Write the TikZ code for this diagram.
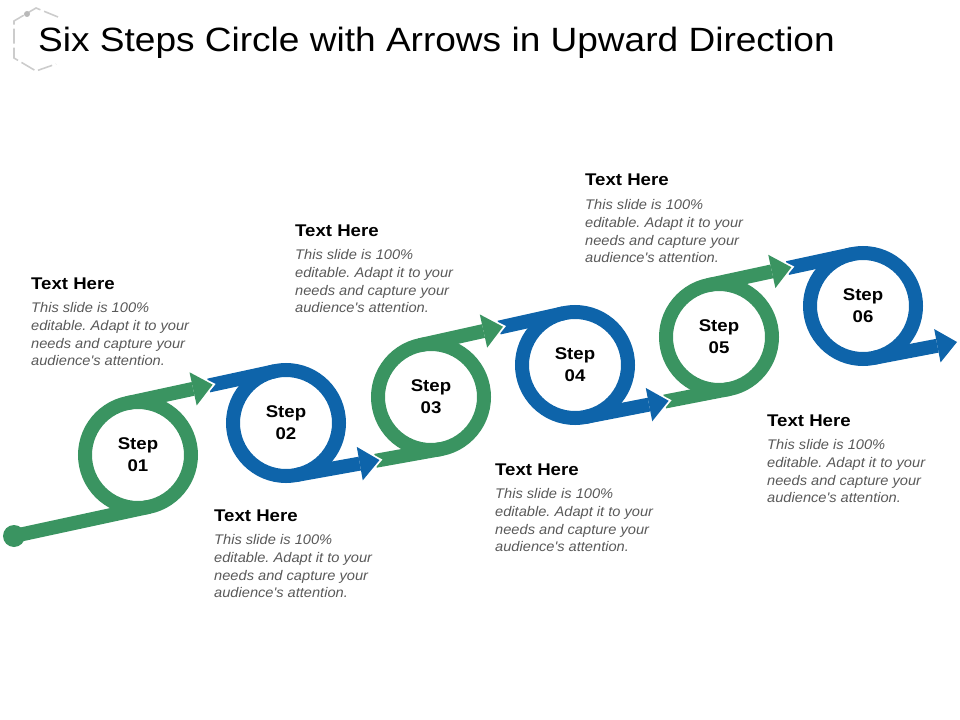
\documentclass[tikz,border=0pt]{standalone}
\usepackage{fontspec}
\setmainfont{Liberation Sans}[FakeStretch=1.05]
\newfontfamily\widesans{Liberation Sans}[FakeStretch=1.1]
\usetikzlibrary{positioning,arrows.meta,calc}
\definecolor{stepgreen}{RGB}{58,148,97}
\definecolor{stepblue}{RGB}{14,100,170}
\definecolor{notegray}{RGB}{89,89,89}
\frenchspacing

\begin{document}
\begin{tikzpicture}[x=1bp,y=-1bp,>={Triangle[length=20bp,width=34bp,line width=0pt]},
  ring/.style={circle,draw=#1,line width=14bp,minimum size=106bp,inner sep=0pt,align=center,font=\widesans\bfseries\fontsize{17}{22}\selectfont},
  band/.style={draw=#1,line width=14bp},
  notehead/.style={anchor=base west,inner sep=0pt,font=\widesans\bfseries\fontsize{17}{20}\selectfont},
  notebody/.style={inner sep=0pt,align=left,text=notegray,font=\itshape\fontsize{14}{17.7}\selectfont}]
\useasboundingbox (0,0) rectangle (960,720);

% logo and title
\draw[gray!40,line width=1.6bp,dash pattern=on 15bp off 4bp] (58,17) -- (36,8) -- (14,21) -- (14,58) -- (36,71) -- (56,64);
\fill[gray!55] (27,14) circle[radius=3bp];
\node[anchor=base west,inner sep=0pt,font=\widesans\fontsize{33.8}{40}\selectfont] (title) at (38,52) {Six Steps Circle with Arrows in Upward Direction};

% the six rings
\node[ring=stepgreen] (c1) at (138,455) {Step\\01};
\node[ring=stepblue]  (c2) at (286,423) {Step\\02};
\node[ring=stepgreen] (c3) at (431,397) {Step\\03};
\node[ring=stepblue]  (c4) at (575,365) {Step\\04};
\node[ring=stepgreen] (c5) at (719,337) {Step\\05};
\node[ring=stepblue]  (c6) at (863,306) {Step\\06};

% start dot
\node[circle,fill=stepgreen,minimum size=22bp,inner sep=0pt] (dot) at (14,536) {};
\coordinate (in1) at ($(c1.center)!53bp!-90:(c2.center)$);
\draw[band=stepgreen] (dot.center) -- (in1);

% arrows between the rings
\foreach \a/\b/\r/\q/\ca/\cb in {1/2/90/-90/stepgreen/stepblue,2/3/-90/90/stepblue/stepgreen,
    3/4/90/-90/stepgreen/stepblue,4/5/-90/90/stepblue/stepgreen,5/6/90/-90/stepgreen/stepblue}{
  \coordinate (s\a) at ($(c\a.center)!53bp!\r:(c\b.center)$);
  \coordinate (e\a) at ($(c\b.center)!53bp!\q:(c\a.center)$);
  \coordinate (t\a) at ($(s\a)!0.58!(e\a)$);
  \draw[band=\cb] ($(t\a)!4bp!(s\a)$) -- (e\a);
  \draw[band=white,-{Triangle[length=26bp,width=42bp,line width=0pt]}] ($(s\a)!0.4!(e\a)$) -- ($(t\a)!-3bp!(s\a)$);
  \draw[band=\ca,->] (s\a) -- (t\a);
}

% last arrow
\coordinate (out6) at ($(c6.center)!53bp!90:(c5.center)$);
\coordinate (tip) at (957,342);
\draw[band=stepblue,->] (out6) -- (tip);

% text blocks
\foreach \n/\x/\y in {1/31/289,2/214/521,3/295/236,4/495/475,5/585/186,6/767/426}{
  \node[notehead] (h\n) at (\x,\y) {Text Here};
  \node[notebody,below=13.5bp of h\n.base west,anchor=north west] (b\n) {This slide is 100\%\\editable. Adapt it to your\\needs and capture your\\audience\textquotesingle s attention.};
}
\end{tikzpicture}
\end{document}
